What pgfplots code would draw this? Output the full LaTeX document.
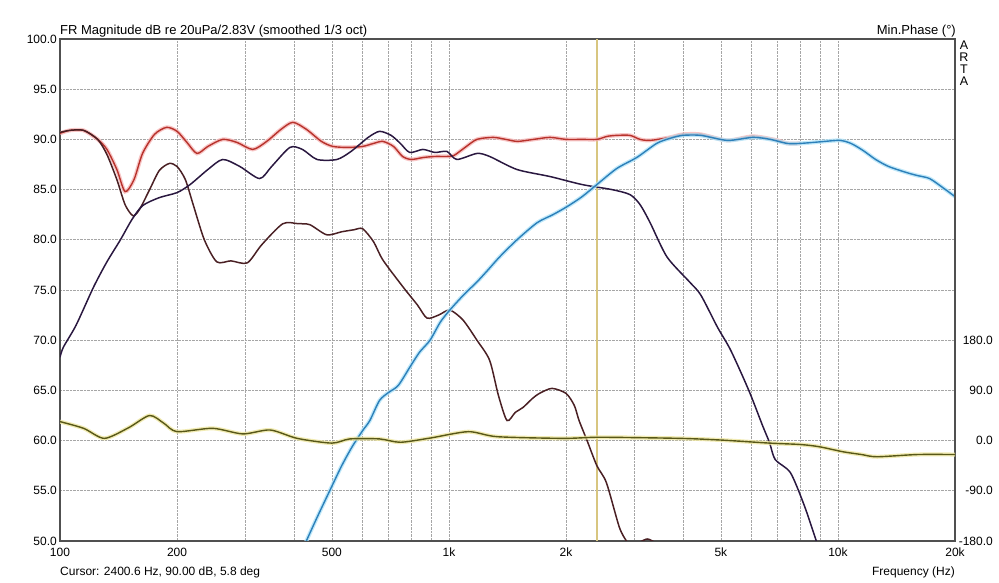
\documentclass[border=0pt]{standalone}
\usepackage{pgfplots}
\usepackage{pgfplotstable}
\pgfplotsset{compat=1.18}
\usepackage{fontspec}
\setmainfont{Liberation Sans}
\definecolor{redc}{HTML}{B8322C}
\definecolor{redglow}{HTML}{F6B8B8}
\definecolor{brownc}{HTML}{4A2024}
\definecolor{darkc}{HTML}{2A1840}
\definecolor{bluec}{HTML}{2C80BA}
\definecolor{blueglow}{HTML}{B0E2F8}
\definecolor{olivec}{HTML}{585818}
\definecolor{oliveglow}{HTML}{EEE6A0}
\definecolor{cursorc}{HTML}{D8C680}
\definecolor{framec}{HTML}{505050}
\pgfplotstableread{
f y
100 90.6
106 90.9
115 90.9
125 90.0
132 89.0
140 87.0
147 84.8
155 86.0
163 88.6
175 90.5
188 91.2
200 90.8
212 89.7
225 88.6
240 89.3
262 90.0
285 89.7
313 89.0
340 89.8
370 91.0
397 91.7
430 91.0
470 89.8
503 89.3
550 89.2
600 89.3
640 89.6
676 89.8
720 89.3
760 88.3
800 88.0
860 88.2
920 88.3
988 88.3
1030 88.4
1100 89.2
1180 90.0
1300 90.2
1400 90.0
1500 89.8
1650 90.0
1819 90.2
2000 90.0
2200 90.0
2400 90.0
2550 90.3
2700 90.4
2920 90.4
3100 90.0
3290 89.9
3700 90.2
3990 90.5
4440 90.5
5200 89.9
6050 90.3
7000 89.9
7400 89.6
8000 89.6
}\redtab
\pgfplotstableread{
f y
420 49.0
431 50.1
460 52.5
495 55.1
530 57.5
564 59.4
600 61.0
626 62.0
663 64.0
700 64.8
741 65.5
793 67.3
840 68.8
894 70.0
950 71.8
1005 73.0
1090 74.5
1180 75.8
1260 77.0
1350 78.3
1496 80.0
1685 81.7
1850 82.5
2011 83.3
2200 84.3
2400 85.5
2700 87.1
3040 88.2
3420 89.6
3700 90.1
3990 90.4
4440 90.4
5200 89.9
6050 90.2
6700 90.0
7400 89.6
8000 89.6
8950 89.75
10100 89.9
10800 89.6
11600 88.9
12500 88.0
13500 87.3
15000 86.7
16000 86.4
17200 86.1
18600 85.2
20000 84.3
}\bluetab
\pgfplotstableread{
f p
100 34
115 22
130 4
150 23
170 45
185 31
200 16
247 22
295 12
347 19
407 4
500 -4.5
556 3
663 3
750 -3
894 4.5
1121 16
1330 7
1970 4
2450 6
3920 4
5000 1
6670 -4.5
8000 -7
8950 -11
10300 -20
11500 -25
12600 -29
16000 -25
20000 -25
}\phasetab
\begin{document}
\fontsize{12}{14}\selectfont
\begin{tikzpicture}[x=1pt,y=1pt]
\useasboundingbox (0,0) rectangle (999,583);
\begin{axis}[
  at={(60pt,42pt)}, anchor=south west, scale only axis,
  width=895pt, height=502pt,
  xmode=log, xmin=100, xmax=20000,
  major tick length=0pt, minor tick length=0pt,
  tick label style={font=\fontsize{12}{14}\selectfont},
  axis line style={draw=framec, line width=1.6pt},
  ymin=50, ymax=100,
  ytick={50,55,60,65,70,75,80,85,90,95,100},
  yticklabels={50.0,55.0,60.0,65.0,70.0,75.0,80.0,85.0,90.0,95.0,100.0},
  xtick={200,300,400,500,600,700,800,900,1000,2000,3000,4000,5000,6000,7000,8000,9000,10000},
  xticklabels={200,,,500,,,,,1k,2k,,,5k,,,,,10k},
  extra x ticks={100,20000},
  extra x tick labels={100,20k},
  extra x tick style={grid=none},
  xmajorgrids, ymajorgrids,
  grid style={gray!70, densely dotted, line width=0.7pt},
  yticklabel style={xshift=1pt},
  xticklabel style={yshift=-3pt},
  every axis plot/.append style={smooth, tension=0.45},
]
\addplot[cursorc, line width=1.6pt, sharp plot] coordinates {(2400.6,50) (2400.6,100)};
\addplot[redglow, line width=4pt, opacity=0.8] table[x=f,y=y] {\redtab};
\addplot[redc, line width=1.4pt] table[x=f,y=y] {\redtab};
\addplot[brownc, line width=1.5pt] coordinates {
(100,90.7) (106,90.9) (115,90.9) (125,90.0) (132,88.5) (140,86.0) (147,83.5)
(154,82.4) (160,83.0) (170,85.0) (180,86.9) (191,87.6) (200,87.3) (210,86.0)
(220,83.5) (235,80.0) (253,77.8) (275,77.9) (303,77.7) (330,79.5) (374,81.6)
(410,81.6) (439,81.5) (485,80.5) (530,80.8) (570,81.0) (600,81.1) (640,79.8)
(676,78.0) (762,75.3) (830,73.5) (878,72.2) (940,72.5) (1005,73.0) (1087,72.0)
(1180,70.0) (1272,68.0) (1340,64.5) (1410,62.0) (1480,62.8) (1550,63.3)
(1640,64.2) (1708,64.7) (1840,65.2) (2000,64.7) (2100,63.5) (2160,62.0)
(2265,60.0) (2400,57.5) (2540,55.8) (2740,51.4) (2860,50.0) (2950,49.5)
(3100,49.9) (3240,50.2) (3400,49.8) (3600,49.0)
};
\addplot[darkc, line width=1.5pt] coordinates {
(100,68.3) (102,69.3) (110,71.5) (122,75.3) (132,77.8) (143,80.0) (153,82.0)
(163,83.4) (180,84.2) (200,84.7) (216,85.5) (240,87.0) (262,88.0) (290,87.3)
(326,86.1) (350,87.3) (390,89.2) (420,89.0) (458,88.0) (515,88.0) (560,88.8)
(620,90.2) (663,90.8) (710,90.4) (750,89.6) (793,88.7) (857,89.0) (920,88.7)
(988,88.8) (1048,88.0) (1180,88.6) (1272,88.3) (1496,87.0) (1819,86.3)
(2200,85.5) (2624,85.0) (2920,84.5) (3100,83.5) (3290,81.7) (3634,78.3)
(4155,75.8) (4440,74.5) (4900,71.3) (5300,69.0) (5900,65.0) (6400,61.5)
(6670,59.8) (6900,58.1) (7550,56.8) (8200,53.5) (8800,50.0) (9000,49.0)
};
\addplot[blueglow, line width=4pt, opacity=0.8] table[x=f,y=y] {\bluetab};
\addplot[bluec, line width=1.4pt] table[x=f,y=y] {\bluetab};
\end{axis}
\begin{axis}[
  at={(60pt,42pt)}, anchor=south west, scale only axis,
  width=895pt, height=502pt,
  xmode=log, xmin=100, xmax=20000,
  major tick length=0pt, minor tick length=0pt,
  tick label style={font=\fontsize{12}{14}\selectfont},
  ymin=-180, ymax=720,
  hide x axis, axis y line*=right,
  y axis line style={draw=framec, line width=1.6pt},
  ytick={-180,-90,0,90,180},
  yticklabels={-180.0,-90.0,0.0,90.0,180.0},
  yticklabel style={anchor=east, xshift=42pt},
  every axis plot/.append style={smooth, tension=0.45},
]
\addplot[oliveglow, line width=4pt, opacity=0.8] table[x=f,y=p] {\phasetab};
\addplot[olivec, line width=1.4pt] table[x=f,y=p] {\phasetab};
\end{axis}
\node[anchor=base west, inner sep=0pt, font=\fontsize{13}{15}\selectfont] at (60,548) {FR Magnitude dB re 20uPa/2.83V (smoothed 1/3 oct)};
\node[anchor=base east, inner sep=0pt, font=\fontsize{13}{15}\selectfont] at (956,548) {Min.Phase (°)};
\node[anchor=base west, inner sep=0pt] at (60,7) {Cursor: 2400.6 Hz, 90.00 dB, 5.8 deg};
\node[anchor=base east, inner sep=0pt] at (955,7) {Frequency (Hz)};
\node[anchor=north, inner sep=0pt, align=center, font=\fontsize{12.5}{12}\selectfont] at (964,542) {A\\R\\T\\A};
\end{tikzpicture}
\end{document}
